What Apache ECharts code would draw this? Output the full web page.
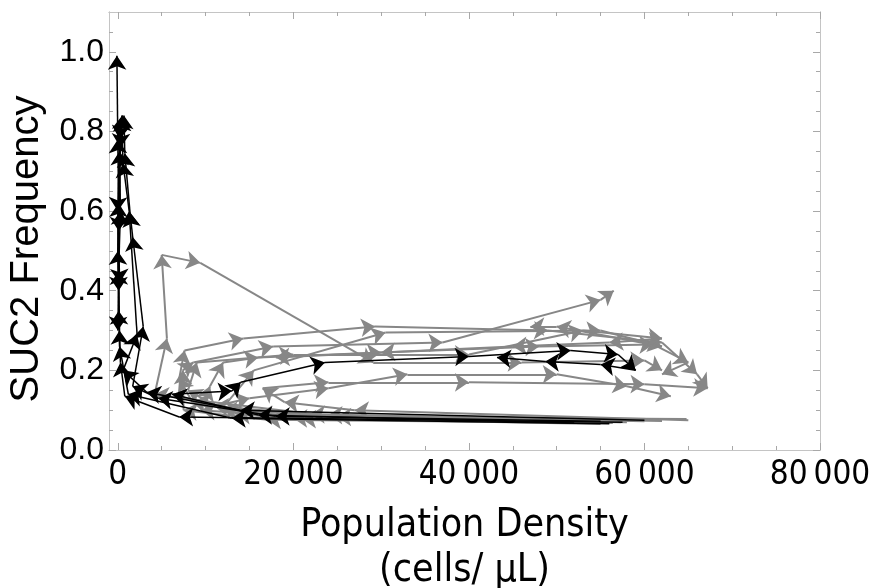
<!DOCTYPE html>
<html><head><meta charset="utf-8">
<script src="https://cdn.jsdelivr.net/npm/echarts@6/dist/echarts.min.js"></script>
<style>html,body{margin:0;padding:0;background:#fff}#c{width:869px;height:588px}</style>
</head><body><div id="c"></div>
<script>
// Tick values
const xMajorTicks = [0, 20000, 40000, 60000, 80000];
const xMinorTicks = [0, 5000, 10000, 15000, 20000, 25000, 30000, 35000, 40000, 45000, 50000, 55000, 60000, 65000, 70000, 75000, 80000];
const yMajorTicks = [0, 0.2, 0.4, 0.6, 0.8, 1.0];
const yMinorTicks = [0, 0.05, 0.1, 0.15, 0.2, 0.25, 0.3, 0.35, 0.4, 0.45, 0.5, 0.55, 0.6, 0.65, 0.7, 0.75, 0.8, 0.85, 0.9, 0.95, 1.0, 1.05];

// Trajectories [density, SUC2 frequency]
const black1 = [[56000,0.066],[13000,0.08],[1200,0.14],[200,0.26],[100,0.35],[0,0.5],[100,0.62],[0,0.78],[-100,0.99]];
const black2 = [[57500,0.07],[7000,0.083],[800,0.135],[300,0.22],[200,0.3],[100,0.45],[300,0.6],[200,0.75],[500,0.84],[200,0.78],[0,0.6],[100,0.4],[0,0.3]];
const black3 = [[55000,0.072],[18000,0.085],[4600,0.13],[1700,0.16],[2900,0.31],[1700,0.535],[1400,0.595],[800,0.745],[700,0.84]];
const black4 = [[60000,0.075],[14000,0.1],[3300,0.145],[600,0.2],[2200,0.29],[1300,0.6],[600,0.72],[450,0.835],[300,0.76],[100,0.55],[200,0.42]];
const black5 = [[52000,0.068],[16000,0.088],[6200,0.14],[13000,0.148],[14000,0.17],[23600,0.22],[40000,0.235],[51600,0.25],[57000,0.24],[59000,0.2],[55000,0.215],[48700,0.222],[43200,0.232]];

const gray1 = [[64800,0.078],[25000,0.083],[9000,0.125],[4200,0.14],[5600,0.28],[5000,0.49],[9400,0.47],[29100,0.22],[46000,0.22],[60000,0.225],[62000,0.2]];
const gray2 = [[57300,0.07],[21000,0.078],[8500,0.12],[7000,0.18],[7600,0.25],[14300,0.28],[29300,0.31],[49000,0.3],[62000,0.27],[66000,0.19],[67200,0.155]];
const gray3 = [[56400,0.068],[17000,0.076],[7500,0.1],[7400,0.2],[8600,0.22],[17700,0.26],[37000,0.27],[55000,0.377],[56500,0.40]];
const gray4 = [[55000,0.065],[20000,0.08],[13500,0.09],[12500,0.12],[15500,0.2],[30500,0.295],[55000,0.3],[62000,0.26],[50000,0.31],[47000,0.31]];
const gray5 = [[65000,0.075],[27000,0.1],[19000,0.12],[16500,0.155],[24000,0.17],[40000,0.17],[60000,0.165],[67200,0.155]];
const gray6 = [[60000,0.072],[22000,0.09],[11000,0.11],[15000,0.13],[24000,0.155],[33000,0.19],[50000,0.19],[58000,0.16],[63000,0.135]];
const gray7 = [[58000,0.07],[16000,0.09],[9500,0.1],[10500,0.16],[12000,0.22],[16000,0.232],[30000,0.245],[48000,0.26],[61000,0.265],[65000,0.22],[62000,0.19]];
const gray8 = [[62000,0.073],[24000,0.088],[12000,0.1],[8000,0.15],[9000,0.22],[20000,0.24],[40000,0.24],[53000,0.3],[62000,0.28],[56000,0.27],[45000,0.26],[30000,0.245],[18000,0.232]];

const grayTrajectories = [gray1, gray2, gray3, gray4, gray5, gray6, gray7, gray8];
const blackTrajectories = [black1, black2, black3, black4, black5];

function segments(traj) {
  const out = [];
  for (let i = 0; i < traj.length - 1; i++) out.push({ coords: [traj[i], traj[i + 1]] });
  return out;
}
function trajSeries(traj, color, width, z) {
  return {
    type: 'lines', coordinateSystem: 'cartesian2d', xAxisIndex: 0, yAxisIndex: 0,
    data: segments(traj), symbol: ['none', 'arrow'], symbolSize: 14, silent: true, z: z,
    lineStyle: { color: color, width: width, opacity: 1, curveness: 0 },
    itemStyle: { color: color }
  };
}
const fmtX = v => String(v).replace(/(\d)(?=(\d{3})+$)/g, '$1\u2009');
const frameColor = '#c4c4c4';
const tickColor = '#a8a8a8';
const narrow = "'Liberation Sans Narrow', 'DejaVu Sans Condensed', sans-serif";

function xAx(pos, major, showLabel) {
  return {
    type: 'value', position: pos, min: -1000, max: 80000,
    axisLine: { show: true, onZero: false, lineStyle: { color: frameColor, width: 1 } },
    axisTick: { show: true, inside: true, length: major ? 7 : 4, lineStyle: { color: tickColor }, customValues: major ? xMajorTicks : xMinorTicks },
    axisLabel: { show: showLabel, customValues: xMajorTicks, formatter: fmtX, fontFamily: narrow, fontSize: 33, color: '#000', margin: 9 },
    splitLine: { show: false },
    name: showLabel ? 'Population Density\n(cells/ \u03bcL)' : '',
    nameLocation: 'middle', nameGap: 53,
    nameTextStyle: { fontFamily: narrow, fontSize: 39, lineHeight: 45, color: '#000' }
  };
}
function yAx(pos, major, showLabel) {
  return {
    type: 'value', position: pos, min: 0, max: 1.1,
    axisLine: { show: true, onZero: false, lineStyle: { color: frameColor, width: 1 } },
    axisTick: { show: true, inside: true, length: major ? 7 : 4, lineStyle: { color: tickColor }, customValues: major ? yMajorTicks : yMinorTicks },
    axisLabel: { show: showLabel, customValues: yMajorTicks, formatter: v => v.toFixed(1), fontFamily: "'Liberation Sans', Arial, sans-serif", fontSize: 32, color: '#000', margin: 5 },
    splitLine: { show: false },
    name: showLabel ? 'SUC2 Frequency' : '',
    nameLocation: 'middle', nameGap: 62, nameRotate: 90,
    nameTextStyle: { fontFamily: "'Liberation Sans', Arial, sans-serif", fontSize: 40, color: '#000', padding: [0, 36, 0, 0] }
  };
}

const chart = echarts.init(document.getElementById('c'), null, { renderer: 'canvas' });
chart.setOption({
  animation: false,
  backgroundColor: '#fff',
  grid: { left: 109, right: 49, top: 12, bottom: 138, containLabel: false, outerBoundsMode: 'none' },
  xAxis: [xAx('bottom', true, true), xAx('bottom', false, false), xAx('top', true, false), xAx('top', false, false)],
  yAxis: [yAx('left', true, true), yAx('left', false, false), yAx('right', true, false), yAx('right', false, false)],
  series: [
    ...grayTrajectories.map(t => trajSeries(t, '#878787', 2, 2)),
    ...blackTrajectories.map(t => trajSeries(t, '#000000', 1.5, 3))
  ]
});
</script></body></html>
